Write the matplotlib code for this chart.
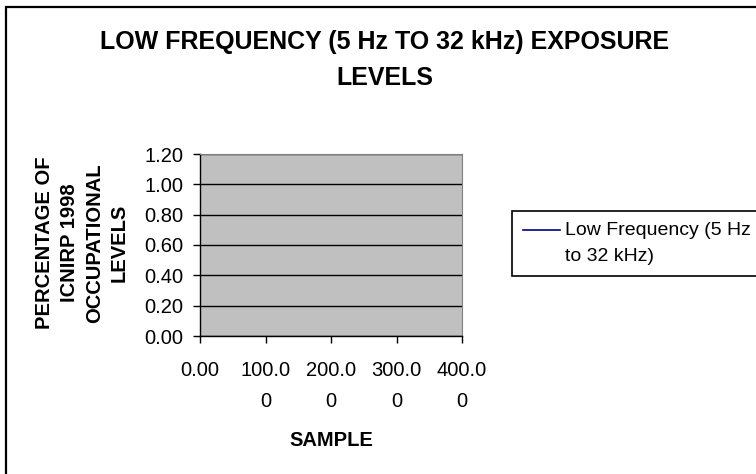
import matplotlib
matplotlib.use("Agg")
import matplotlib.pyplot as plt
from matplotlib.patches import Rectangle
from matplotlib.lines import Line2D
from matplotlib.legend_handler import HandlerLine2D

plt.rcParams['font.family'] = ['Liberation Sans', 'DejaVu Sans']

# dati: la serie nel grafico originale e' vuota
sample = []
low_freq = []

title = "LOW FREQUENCY (5 Hz TO 32 kHz) EXPOSURE\nLEVELS"
ylabel = "PERCENTAGE OF\nICNIRP 1998\nOCCUPATIONAL\nLEVELS"
xlabel = "SAMPLE"
series_label = "Low Frequency (5 Hz\nto 32 kHz)"
x_ticks = [0, 100, 200, 300, 400]
x_ticklabels = ["0.00", "100.0\n0", "200.0\n0", "300.0\n0", "400.0\n0"]
y_ticks = [0.0, 0.2, 0.4, 0.6, 0.8, 1.0, 1.2]
y_ticklabels = ["0.00", "0.20", "0.40", "0.60", "0.80", "1.00", "1.20"]


class FirstLineHandler(HandlerLine2D):
    # mette la linea della legenda all'altezza della prima riga del testo
    def create_artists(self, legend, orig_handle, xdescent, ydescent,
                       width, height, fontsize, trans):
        return super().create_artists(legend, orig_handle, xdescent,
                                      ydescent - 1.35 * fontsize, width,
                                      height, fontsize, trans)


W, H = 756, 474
fig = plt.figure(figsize=(W / 100, H / 100), dpi=100)

# area del grafico (pixel -> frazioni della figura)
left, right, top, bottom = 200, 462, 154, 336
ax = fig.add_axes([left / W, 1 - bottom / H, (right - left) / W, (bottom - top) / H])
ax.set_facecolor('#C0C0C0')

ax.plot(sample, low_freq, color='#000080', lw=1.2, label=series_label)

ax.set_xlim(0, 400)
ax.set_ylim(0, 1.2)
ax.set_xticks(x_ticks)
ax.set_xticklabels(x_ticklabels, fontsize=14.5, linespacing=1.8)
ax.set_yticks(y_ticks)
ax.set_yticklabels(y_ticklabels, fontsize=14.5)
ax.tick_params(axis='both', direction='out', length=5, width=1, color='black')
ax.tick_params(axis='y', pad=7)
ax.tick_params(axis='x', pad=13)

ax.grid(axis='y', color='black', lw=1)
ax.set_axisbelow(True)
for s in ['top', 'right']:
    ax.spines[s].set_color('#808080')
for s in ['left', 'bottom']:
    ax.spines[s].set_color('black')
    ax.spines[s].set_linewidth(1)

# testi
fig.text(385 / W, 1 - 60 / H, title, ha='center', va='center',
         fontsize=18, fontweight='bold', linespacing=1.68)
fig.text(82 / W, 1 - 243 / H, ylabel, ha='center', va='center', rotation=90,
         fontsize=14.5, fontweight='bold', linespacing=1.4)
fig.text(331 / W, 1 - 440 / H, xlabel, ha='center', va='center',
         fontsize=14.5, fontweight='bold')

leg = fig.legend(loc='upper left', bbox_to_anchor=(512 / W, 1 - 211 / H),
                 borderaxespad=0, fontsize=14, frameon=True, fancybox=False,
                 edgecolor='black', framealpha=1, handlelength=1.9,
                 handletextpad=0.3, borderpad=0.55,
                 handler_map={Line2D: FirstLineHandler()})
leg.get_frame().set_linewidth(1.2)
for t in leg.get_texts():
    t.set_linespacing(1.75)

# bordo esterno (solo lati sinistro e superiore visibili)
fig.patches.append(Rectangle((6 / W, -0.1), 2.0, 1 - 7 / H + 0.1,
                             transform=fig.transFigure, fill=False,
                             edgecolor='black', lw=1.6))

fig.savefig('out.png', dpi=100)
plt.close(fig)
